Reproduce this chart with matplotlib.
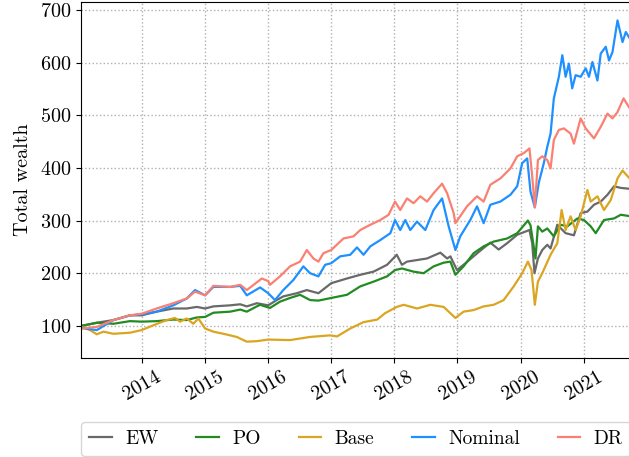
import pandas as pd
import matplotlib
matplotlib.use('Agg')
import matplotlib.pyplot as plt
import matplotlib.dates as mdates

# Valores (fecha, riqueza total)
ew = [('2013-01-18', 100), ('2013-05-06', 107), ('2013-07-22', 111), ('2013-10-26', 120),
      ('2014-01-01', 120), ('2014-03-29', 127), ('2014-07-03', 133), ('2014-09-19', 133),
      ('2014-11-16', 136), ('2015-01-03', 133), ('2015-02-20', 137), ('2015-05-28', 139),
      ('2015-07-25', 141), ('2015-09-01', 137), ('2015-10-29', 143), ('2016-01-03', 139),
      ('2016-02-21', 149), ('2016-03-30', 156), ('2016-06-16', 162), ('2016-08-13', 168),
      ('2016-10-19', 162), ('2017-01-01', 181), ('2017-04-02', 190), ('2017-06-18', 197),
      ('2017-09-03', 203), ('2017-11-20', 216), ('2018-01-15', 235), ('2018-02-14', 216),
      ('2018-03-15', 222), ('2018-05-12', 225), ('2018-07-09', 228), ('2018-09-24', 239),
      ('2018-11-02', 228), ('2018-11-21', 232), ('2018-12-29', 206), ('2019-02-05', 216),
      ('2019-04-04', 232), ('2019-06-01', 248), ('2019-07-10', 258), ('2019-08-27', 245),
      ('2019-10-15', 257), ('2019-12-12', 273), ('2020-02-21', 282), ('2020-03-08', 257),
      ('2020-03-21', 200), ('2020-04-10', 228), ('2020-05-05', 244), ('2020-06-03', 254),
      ('2020-06-22', 247), ('2020-07-31', 292), ('2020-09-17', 276), ('2020-11-04', 272),
      ('2020-12-13', 314), ('2021-01-21', 317), ('2021-02-28', 330), ('2021-04-08', 336),
      ('2021-05-17', 349), ('2021-06-24', 365), ('2021-08-02', 362), ('2021-09-30', 360)]

po = [('2013-01-18', 100), ('2013-04-17', 106), ('2013-07-22', 104), ('2013-10-26', 109),
      ('2014-01-01', 108), ('2014-03-29', 109), ('2014-07-03', 112), ('2014-09-19', 111),
      ('2014-11-16', 116), ('2015-01-03', 117), ('2015-02-20', 125), ('2015-05-28', 127),
      ('2015-07-25', 131), ('2015-09-01', 127), ('2015-10-29', 137), ('2015-11-17', 140),
      ('2016-01-13', 134), ('2016-03-11', 146), ('2016-05-08', 153), ('2016-07-05', 159),
      ('2016-09-01', 149), ('2016-10-19', 148), ('2017-01-01', 153), ('2017-04-02', 159),
      ('2017-06-18', 175), ('2017-09-03', 184), ('2017-11-20', 194), ('2018-01-05', 206),
      ('2018-02-14', 209), ('2018-04-22', 203), ('2018-06-19', 200), ('2018-08-16', 213),
      ('2018-10-13', 220), ('2018-11-21', 222), ('2018-12-20', 197), ('2019-02-05', 213),
      ('2019-04-04', 238), ('2019-06-01', 251), ('2019-07-29', 260), ('2019-10-15', 266),
      ('2019-12-12', 276), ('2020-02-12', 300), ('2020-02-27', 291), ('2020-03-27', 228),
      ('2020-04-10', 289), ('2020-05-05', 279), ('2020-06-03', 285), ('2020-07-11', 270),
      ('2020-08-19', 292), ('2020-09-27', 289), ('2020-11-24', 304), ('2021-01-01', 301),
      ('2021-02-09', 289), ('2021-03-10', 276), ('2021-04-27', 301), ('2021-06-24', 304),
      ('2021-08-02', 311), ('2021-09-30', 308)]

base = [('2013-01-18', 98), ('2013-03-09', 92), ('2013-04-17', 84), ('2013-05-25', 89),
        ('2013-07-22', 85), ('2013-10-26', 87), ('2014-01-01', 92), ('2014-03-09', 101),
        ('2014-05-26', 111), ('2014-07-13', 115), ('2014-08-11', 108), ('2014-09-19', 114),
        ('2014-10-27', 104), ('2014-11-25', 114), ('2015-01-03', 95), ('2015-02-20', 89),
        ('2015-04-19', 85), ('2015-07-05', 79), ('2015-09-01', 70), ('2015-10-29', 71),
        ('2016-01-03', 74), ('2016-05-08', 73), ('2016-09-01', 79), ('2016-12-26', 82),
        ('2017-02-04', 80), ('2017-04-21', 95), ('2017-07-06', 107), ('2017-09-24', 112),
        ('2017-11-08', 124), ('2018-01-15', 136), ('2018-02-24', 140), ('2018-05-12', 133),
        ('2018-07-28', 140), ('2018-10-13', 136), ('2018-12-20', 115), ('2019-02-05', 127),
        ('2019-04-04', 130), ('2019-06-01', 137), ('2019-07-29', 140), ('2019-09-25', 149),
        ('2019-11-22', 175), ('2020-01-10', 200), ('2020-02-12', 222), ('2020-03-04', 206),
        ('2020-03-23', 140), ('2020-04-10', 184), ('2020-05-05', 200), ('2020-06-22', 235),
        ('2020-07-31', 257), ('2020-08-25', 320), ('2020-09-17', 282), ('2020-10-16', 308),
        ('2020-11-14', 282), ('2020-12-13', 308), ('2021-01-21', 358), ('2021-02-09', 336),
        ('2021-03-20', 346), ('2021-04-27', 320), ('2021-06-05', 339), ('2021-07-14', 380),
        ('2021-08-12', 395), ('2021-09-30', 377)]

nominal = [('2013-01-18', 96), ('2013-04-17', 92), ('2013-07-22', 111), ('2013-10-26', 120),
           ('2014-01-01', 122), ('2014-03-29', 127), ('2014-07-03', 139), ('2014-09-19', 152),
           ('2014-11-06', 168), ('2015-01-03', 158), ('2015-02-20', 174), ('2015-05-28', 174),
           ('2015-07-25', 176), ('2015-09-01', 158), ('2015-11-17', 173), ('2016-01-03', 162),
           ('2016-02-11', 149), ('2016-03-30', 168), ('2016-05-27', 187), ('2016-07-24', 213),
           ('2016-09-01', 200), ('2016-10-19', 194), ('2016-11-27', 216), ('2017-01-01', 219),
           ('2017-02-22', 232), ('2017-04-21', 235), ('2017-05-30', 249), ('2017-07-07', 235),
           ('2017-08-15', 251), ('2017-10-12', 263), ('2017-12-09', 276), ('2018-01-05', 301),
           ('2018-02-04', 282), ('2018-03-05', 301), ('2018-04-03', 282), ('2018-05-12', 298),
           ('2018-06-29', 282), ('2018-08-16', 320), ('2018-10-04', 342), ('2018-11-11', 289),
           ('2018-12-20', 244), ('2019-01-17', 270), ('2019-03-16', 301), ('2019-04-24', 327),
           ('2019-06-01', 295), ('2019-07-10', 330), ('2019-09-06', 336), ('2019-11-03', 349),
           ('2019-12-12', 365), ('2020-01-10', 409), ('2020-02-08', 418), ('2020-02-27', 355),
           ('2020-03-23', 325), ('2020-04-15', 372), ('2020-05-14', 409), ('2020-06-03', 440),
           ('2020-06-22', 465), ('2020-07-11', 532), ('2020-08-09', 573), ('2020-08-29', 614),
           ('2020-09-17', 573), ('2020-10-06', 598), ('2020-10-25', 551), ('2020-11-14', 576),
           ('2020-12-13', 573), ('2021-01-11', 589), ('2021-01-30', 573), ('2021-02-19', 601),
           ('2021-03-20', 566), ('2021-04-08', 617), ('2021-05-07', 630), ('2021-05-26', 604),
           ('2021-06-15', 620), ('2021-07-14', 680), ('2021-08-12', 639), ('2021-08-31', 658),
           ('2021-09-30', 642)]

dr = [('2013-01-18', 95), ('2013-04-17', 98), ('2013-07-22', 111), ('2013-10-26', 120),
      ('2014-01-01', 123), ('2014-03-29', 133), ('2014-07-03', 143), ('2014-09-19', 152),
      ('2014-11-06', 165), ('2015-01-03', 158), ('2015-02-20', 176), ('2015-05-28', 174),
      ('2015-07-25', 178), ('2015-09-01', 168), ('2015-11-27', 190), ('2016-01-03', 185),
      ('2016-01-13', 178), ('2016-03-11', 194), ('2016-05-08', 213), ('2016-07-05', 222),
      ('2016-08-13', 244), ('2016-09-20', 228), ('2016-10-19', 222), ('2016-11-17', 238),
      ('2017-01-01', 244), ('2017-03-13', 266), ('2017-05-10', 270), ('2017-06-18', 282),
      ('2017-08-15', 292), ('2017-10-12', 301), ('2017-11-29', 311), ('2018-01-05', 336),
      ('2018-02-04', 320), ('2018-03-15', 342), ('2018-04-22', 333), ('2018-05-31', 346),
      ('2018-07-09', 336), ('2018-08-16', 352), ('2018-10-04', 370), ('2018-11-02', 352),
      ('2018-12-10', 314), ('2018-12-20', 295), ('2019-02-25', 327), ('2019-04-24', 346),
      ('2019-06-01', 336), ('2019-07-10', 368), ('2019-09-06', 380), ('2019-11-03', 399),
      ('2019-12-12', 422), ('2020-01-19', 428), ('2020-02-21', 437), ('2020-03-08', 384),
      ('2020-03-23', 325), ('2020-04-10', 415), ('2020-05-05', 422), ('2020-06-03', 415),
      ('2020-06-22', 399), ('2020-07-11', 453), ('2020-08-09', 472), ('2020-09-07', 475),
      ('2020-10-16', 465), ('2020-11-04', 446), ('2020-12-13', 494), ('2021-01-11', 475),
      ('2021-02-28', 456), ('2021-04-08', 478), ('2021-05-17', 503), ('2021-06-15', 494),
      ('2021-07-14', 506), ('2021-08-18', 532), ('2021-09-30', 509)]

series = [('EW', ew, 'dimgray'),
          ('PO', po, 'forestgreen'),
          ('Base', base, 'goldenrod'),
          ('Nominal', nominal, 'dodgerblue'),
          ('DR', dr, 'salmon')]

# Estilo tipo LaTeX
plt.rcParams['font.family'] = 'serif'
plt.rcParams['font.serif'] = ['cmr10']
plt.rcParams['mathtext.fontset'] = 'cm'
plt.rcParams['axes.formatter.use_mathtext'] = True
plt.rcParams['font.size'] = 14

fig = plt.figure(figsize=(6.29, 4.57), dpi=100)
ax = fig.add_axes([81.4 / 629, 99 / 457, (631 - 81.4) / 629, 356 / 457])

for nombre, datos, color in series:
    fechas = pd.to_datetime([d for d, _ in datos])
    valores = [v for _, v in datos]
    ax.plot(fechas, valores, color=color, linewidth=1.6, label=nombre)

ax.set_xlim(pd.Timestamp('2013-01-18'), pd.Timestamp('2021-09-30'))
ax.set_ylim(39, 715)
ax.set_yticks(range(100, 701, 100))
ax.xaxis.set_major_locator(mdates.YearLocator())
ax.xaxis.set_major_formatter(mdates.DateFormatter('%Y'))
plt.setp(ax.get_xticklabels(), rotation=30)
ax.tick_params(labelsize=14.5)
ax.set_ylabel('Total wealth', fontsize=14.5, labelpad=6)
ax.grid(True, linestyle=':', color='#b0b0b0', linewidth=1)

ax.legend(loc='upper left', bbox_to_anchor=(0, -0.18), ncol=5, borderaxespad=0,
          fontsize=14, handlelength=1.15, handletextpad=0.7, columnspacing=1.95)

fig.savefig('out.png', dpi=100)
